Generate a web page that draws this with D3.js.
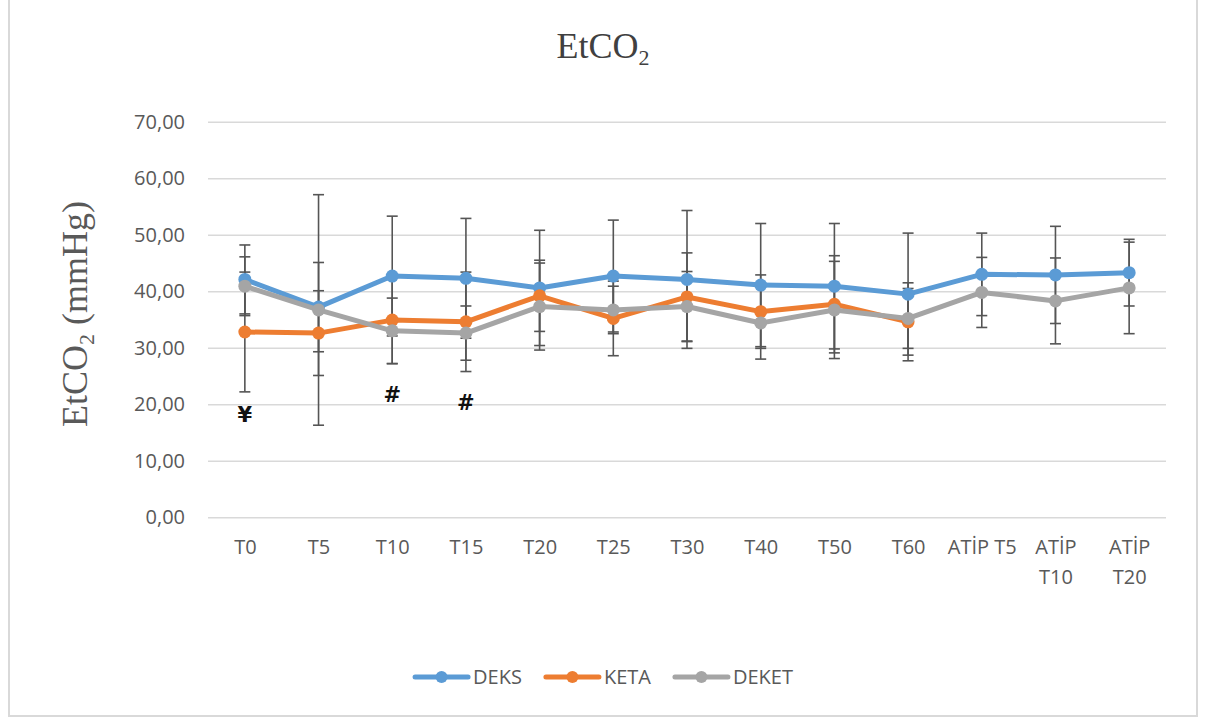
<!DOCTYPE html>
<html>
<head>
<meta charset="utf-8">
<script src="https://cdnjs.cloudflare.com/ajax/libs/d3/7.8.5/d3.min.js"></script>
<style>
  body { margin: 0; background: #fff; }
  svg { display: block; }
</style>
</head>
<body>
<div id="chart"></div>
<script>

//Chart data.

var categories = ["T0", "T5", "T10", "T15", "T20", "T25", "T30", "T40", "T50", "T60", "ATİP T5", "ATİP T10", "ATİP T20"];

var deks = [42.1, 37.2, 42.7, 42.3, 40.6, 42.7, 42.1, 41.1, 40.9, 39.5, 43.0, 42.9, 43.3];
var deksSD = [6.1, 7.9, 10.6, 10.6, 10.2, 9.9, 12.2, 10.9, 11.1, 10.8, 7.3, 8.6, 5.9];

var keta = [32.8, 32.6, 34.9, 34.6, 39.2, 35.2, 39.0, 36.4, 37.7, 34.6, null, null, null];
var ketaSD = [10.6, 7.5, 7.7, 8.8, 6.3, 6.6, 7.8, 6.5, 8.6, 6.9, null, null, null];

var deket = [40.9, 36.7, 33.0, 32.6, 37.3, 36.7, 37.3, 34.4, 36.7, 35.2, 39.8, 38.3, 40.6];
var deketSD = [5.2, 20.4, 5.8, 4.8, 7.7, 4.2, 6.2, 6.4, 8.6, 5.3, 6.2, 7.6, 8.1];

var seriesNames = ["DEKS", "KETA", "DEKET"];
var seriesColors = ["#5b9bd5", "#ed7d31", "#a5a5a5"];

var yTicks = [0, 10, 20, 30, 40, 50, 60, 70];

//Significance marks: symbol, category, value position
var marks = [
  { symbol: "¥", cat: "T0", value: 18.2 },
  { symbol: "#", cat: "T10", value: 21.7 },
  { symbol: "#", cat: "T15", value: 20.3 }
];

var series = [
  { name: seriesNames[0], values: deks, sd: deksSD, color: seriesColors[0] },
  { name: seriesNames[1], values: keta, sd: ketaSD, color: seriesColors[1] },
  { name: seriesNames[2], values: deket, sd: deketSD, color: seriesColors[2] }
];

//Sets dimensions
var width = 1216,
  height = 719;

var plotLeft = 208,
  plotRight = 1166,
  plotTop = 121.8,
  plotBottom = 517.3;

var labelFont = "'Open Sans', 'Liberation Sans', sans-serif";
var serifFont = "'Liberation Serif', 'DejaVu Serif', serif";

var svg = d3.select("#chart")
  .append("svg")
  .attr("width", width)
  .attr("height", height);

//Frame of the chart
svg.append("rect")
  .attr("x", 9)
  .attr("y", -5)
  .attr("width", 1188)
  .attr("height", 721)
  .attr("fill", "#fff")
  .attr("stroke", "#d9d9d9")
  .attr("stroke-width", 2);

//Scales
var x = d3.scalePoint()
  .domain(categories)
  .range([plotLeft, plotRight])
  .padding(0.5);

var y = d3.scaleLinear()
  .domain([0, 70])
  .range([plotBottom, plotTop]);

//Y axis with gridlines
var yAxis = svg.append("g")
  .attr("transform", "translate(" + plotLeft + ",0)")
  .call(d3.axisLeft(y)
    .tickValues(yTicks)
    .tickSize(-(plotRight - plotLeft))
    .tickPadding(23)
    .tickFormat(function(d) {
      return d3.format(".2f")(d).replace(".", ",");
    }));

yAxis.select(".domain").remove();
yAxis.selectAll(".tick line")
  .attr("stroke", "#d9d9d9")
  .attr("stroke-width", 1.5);
yAxis.selectAll(".tick text")
  .attr("fill", "#595959")
  .style("font-family", labelFont)
  .style("font-size", "20px");

//X axis labels
var xAxis = svg.append("g")
  .attr("transform", "translate(0," + plotBottom + ")")
  .call(d3.axisBottom(x).tickSize(0).tickPadding(23));

xAxis.select(".domain").remove();
xAxis.selectAll(".tick text")
  .attr("fill", "#595959")
  .style("font-family", labelFont)
  .style("font-size", "20px")
  .call(wrap, x.step());

//Wrap long category names onto two lines
function wrap(text, w) {
  text.each(function() {
    var t = d3.select(this);
    var words = t.text().split(/\s+/);
    var yPos = t.attr("y");
    var dy = parseFloat(t.attr("dy"));
    t.text(null);
    var line = [];
    var lineNumber = 0;
    var tspan = t.append("tspan").attr("x", 0).attr("y", yPos).attr("dy", dy + "em");
    words.forEach(function(word) {
      line.push(word);
      tspan.text(line.join(" "));
      if (tspan.node().getComputedTextLength() > w - 2 && line.length > 1) {
        line.pop();
        tspan.text(line.join(" "));
        line = [word];
        lineNumber++;
        tspan = t.append("tspan")
          .attr("x", 0)
          .attr("y", yPos)
          .attr("dy", (lineNumber * 1.5 + dy) + "em")
          .text(word);
      }
    });
  });
}

//Error bars (mean +/- SD)
var capHalf = 5.5;
series.forEach(function(s) {
  var pts = s.values.map(function(v, i) {
    return { cat: categories[i], v: v, sd: s.sd[i] };
  }).filter(function(d) { return d.v != null; });

  var g = svg.append("g")
    .attr("stroke", "#555")
    .attr("stroke-width", 1.6);

  g.selectAll(".bar")
    .data(pts)
    .enter()
    .append("line")
    .attr("x1", function(d) { return x(d.cat); })
    .attr("x2", function(d) { return x(d.cat); })
    .attr("y1", function(d) { return y(d.v + d.sd); })
    .attr("y2", function(d) { return y(d.v - d.sd); });

  g.selectAll(".capTop")
    .data(pts)
    .enter()
    .append("line")
    .attr("x1", function(d) { return x(d.cat) - capHalf; })
    .attr("x2", function(d) { return x(d.cat) + capHalf; })
    .attr("y1", function(d) { return y(d.v + d.sd); })
    .attr("y2", function(d) { return y(d.v + d.sd); });

  g.selectAll(".capBottom")
    .data(pts)
    .enter()
    .append("line")
    .attr("x1", function(d) { return x(d.cat) - capHalf; })
    .attr("x2", function(d) { return x(d.cat) + capHalf; })
    .attr("y1", function(d) { return y(d.v - d.sd); })
    .attr("y2", function(d) { return y(d.v - d.sd); });
});

//Lines and markers
var line = d3.line()
  .defined(function(d) { return d.v != null; })
  .x(function(d) { return x(d.cat); })
  .y(function(d) { return y(d.v); });

series.forEach(function(s) {
  var pts = s.values.map(function(v, i) {
    return { cat: categories[i], v: v };
  });

  svg.append("path")
    .datum(pts)
    .attr("d", line)
    .attr("fill", "none")
    .attr("stroke", s.color)
    .attr("stroke-width", 5)
    .attr("stroke-linejoin", "round")
    .attr("stroke-linecap", "round");

  svg.selectAll(null)
    .data(pts.filter(function(d) { return d.v != null; }))
    .enter()
    .append("circle")
    .attr("cx", function(d) { return x(d.cat); })
    .attr("cy", function(d) { return y(d.v); })
    .attr("r", 6.5)
    .attr("fill", s.color);
});

//Significance marks
svg.selectAll(".mark")
  .data(marks)
  .enter()
  .append("text")
  .attr("x", function(d) { return x(d.cat); })
  .attr("y", function(d) { return y(d.value); })
  .attr("dy", "0.36em")
  .attr("text-anchor", "middle")
  .style("font-family", "'DejaVu Sans', sans-serif")
  .style("font-weight", "bold")
  .style("font-size", "21px")
  .attr("fill", "#111")
  .text(function(d) { return d.symbol; });

//Title
var title = svg.append("text")
  .attr("x", 603)
  .attr("y", 58)
  .attr("text-anchor", "middle")
  .attr("fill", "#404040")
  .style("font-family", serifFont)
  .style("font-size", "36px");
title.append("tspan").text("EtCO");
title.append("tspan").attr("dy", 7).style("font-size", "22px").text("2");

//Y axis title
var yTitle = svg.append("text")
  .attr("transform", "translate(87,314) rotate(-90)")
  .attr("text-anchor", "middle")
  .attr("fill", "#595959")
  .style("font-family", serifFont)
  .style("font-size", "36px");
yTitle.append("tspan").text("EtCO");
yTitle.append("tspan").attr("dy", 7).style("font-size", "22px").text("2");
yTitle.append("tspan").attr("dy", -7).text(" (mmHg)");

//Legend
var legend = svg.append("g");
var legendY = 677,
  lineLen = 53,
  textGap = 5,
  itemGap = 24;

var items = legend.selectAll("g")
  .data(series)
  .enter()
  .append("g");

items.append("line")
  .attr("x1", 0)
  .attr("x2", lineLen)
  .attr("y1", 0)
  .attr("y2", 0)
  .attr("stroke", function(d) { return d.color; })
  .attr("stroke-width", 5)
  .attr("stroke-linecap", "round");

items.append("circle")
  .attr("cx", lineLen / 2)
  .attr("cy", 0)
  .attr("r", 6)
  .attr("fill", function(d) { return d.color; });

items.append("text")
  .attr("x", lineLen + textGap)
  .attr("y", 0)
  .attr("dy", "0.35em")
  .attr("fill", "#595959")
  .style("font-family", labelFont)
  .style("font-size", "20px")
  .text(function(d) { return d.name; });

//Place legend items next to each other, centred on the chart
var offsets = [];
var total = 0;
items.each(function(d, i) {
  var w = lineLen + textGap + d3.select(this).select("text").node().getComputedTextLength();
  offsets.push(total);
  total += w + (i < series.length - 1 ? itemGap : 0);
});
var startX = 604 - total / 2;
items.attr("transform", function(d, i) {
  return "translate(" + (startX + offsets[i]) + "," + legendY + ")";
});

</script>
</body>
</html>
